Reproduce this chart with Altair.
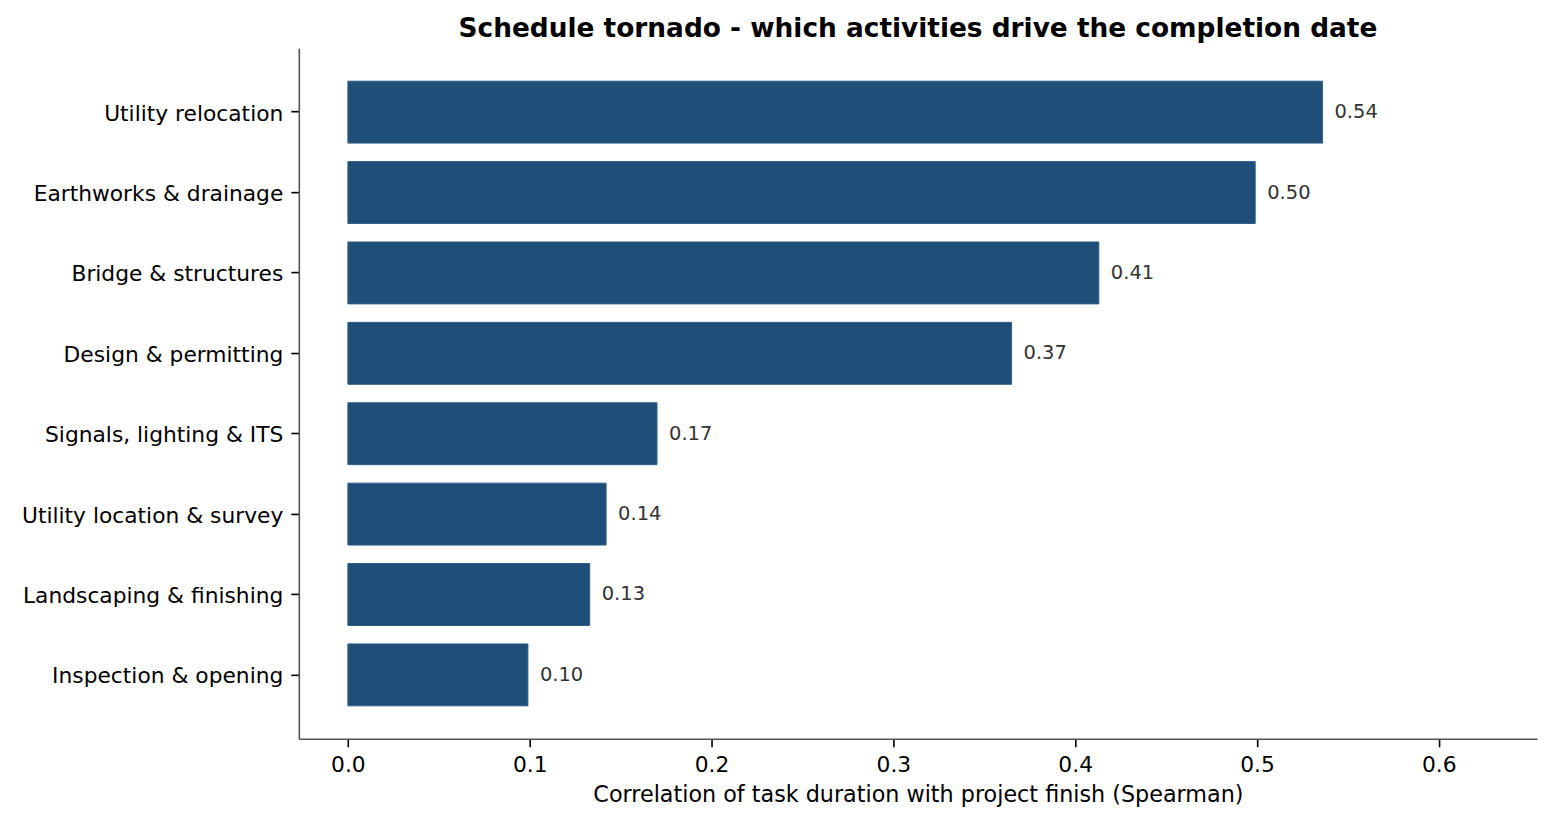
import altair as alt
import pandas as pd

activities = [
    "Utility relocation",
    "Earthworks & drainage",
    "Bridge & structures",
    "Design & permitting",
    "Signals, lighting & ITS",
    "Utility location & survey",
    "Landscaping & finishing",
    "Inspection & opening",
]
correlations = [0.536, 0.499, 0.413, 0.365, 0.170, 0.142, 0.133, 0.099]
value_labels = ["0.54", "0.50", "0.41", "0.37", "0.17", "0.14", "0.13", "0.10"]
x_ticks = [0.0, 0.1, 0.2, 0.3, 0.4, 0.5, 0.6]

df = pd.DataFrame({"activity": activities, "corr": correlations, "label": value_labels})

FONT = "DejaVu Sans"

y_enc = alt.Y(
    "activity:N",
    sort=activities,
    scale=alt.Scale(paddingInner=0.23, paddingOuter=0.41),
    axis=alt.Axis(title=None, grid=False, labelLimit=500, labelOffset=1.5),
)

x_enc = alt.X(
    "corr:Q",
    scale=alt.Scale(domain=[-0.027, 0.654], nice=False, zero=False),
    axis=alt.Axis(
        title="Correlation of task duration with project finish (Spearman)",
        values=x_ticks,
        format=".1f",
        grid=False,
        titlePadding=7,
    ),
)

bars = alt.Chart(df).mark_bar(
    color="#1f4e79", stroke="#2e5d88", strokeWidth=1
).encode(
    y=y_enc,
    x=x_enc,
    x2=alt.datum(0),
)

text = alt.Chart(df).mark_text(
    align="left", baseline="middle", dx=12, dy=0, font=FONT, fontSize=19.5, color="#333333"
).encode(
    y=alt.Y("activity:N", sort=activities),
    x=alt.X("corr:Q"),
    text="label:N",
)

chart = alt.layer(bars, text).properties(
    width=1239,
    height=691,
    title=alt.TitleParams(
        "Schedule tornado - which activities drive the completion date",
        font=FONT,
        fontSize=26.4,
        fontWeight="bold",
        color="#000000",
        anchor="middle",
        offset=6,
    ),
    autosize=alt.AutoSizeParams(type="none"),
    padding={"left": 291, "top": 40, "right": 10, "bottom": 80},
).configure(
    background="#ffffff"
).configure_view(
    stroke=None
).configure_axis(
    labelFont=FONT,
    labelFontSize=21.8,
    labelColor="#000000",
    labelPadding=8,
    labelLimit=500,
    tickColor="#000000",
    tickSize=8,
    tickWidth=1.6,
    domainColor="#555555",
    domainWidth=1.6,
    titleFont=FONT,
    titleFontSize=22.3,
    titleFontWeight="normal",
    titleColor="#000000",
)

chart.save("out.html", embed_options={"renderer": "svg", "actions": False})
